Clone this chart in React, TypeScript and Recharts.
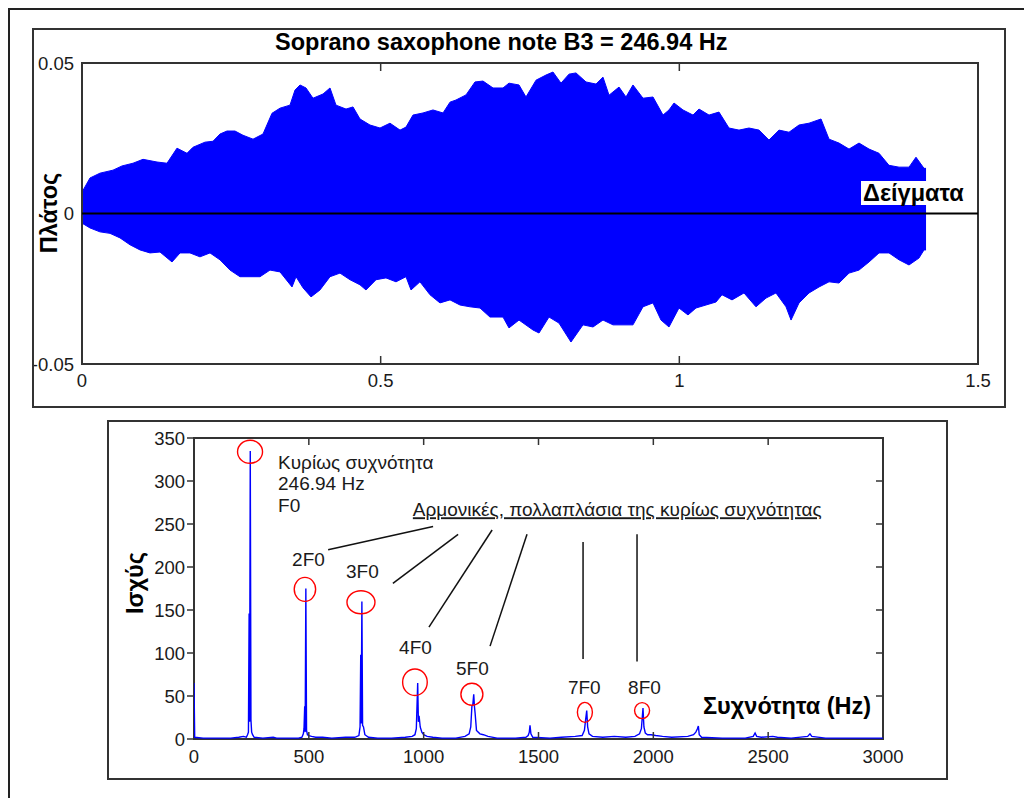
import React from 'react';
import { ComposedChart, Area, Line, XAxis, YAxis, ReferenceLine, ReferenceArea, ReferenceDot } from 'recharts';

// ---------- top panel: waveform envelope (time s, amplitude) ----------
const waveTop: [number, number][] = [
  [0, 0.0071], [0.0134, 0.0118], [0.0301, 0.0134], [0.0519, 0.0144], [0.067, 0.0158], [0.0854, 0.0167],
  [0.1021, 0.018], [0.1256, 0.0171], [0.1423, 0.0167], [0.159, 0.0217], [0.1758, 0.02], [0.1858, 0.022],
  [0.2059, 0.0237], [0.2193, 0.024], [0.231, 0.0264], [0.2427, 0.0274], [0.2561, 0.0274], [0.2695, 0.026],
  [0.2863, 0.0247], [0.303, 0.0264], [0.3181, 0.0333], [0.3315, 0.035], [0.3482, 0.036], [0.3566, 0.041],
  [0.365, 0.0427], [0.375, 0.0417], [0.3867, 0.0383], [0.4035, 0.0397], [0.4152, 0.0417], [0.4252, 0.036],
  [0.442, 0.0347], [0.4537, 0.0354], [0.4654, 0.0314], [0.4821, 0.0294], [0.4989, 0.0284], [0.5156, 0.03],
  [0.5324, 0.0277], [0.5424, 0.0287], [0.5541, 0.0327], [0.5709, 0.0334], [0.5876, 0.0344], [0.6044, 0.0334],
  [0.6161, 0.037], [0.6261, 0.0377], [0.6429, 0.0394], [0.6579, 0.0437], [0.6713, 0.044], [0.6881, 0.0417],
  [0.7048, 0.0417], [0.7148, 0.0433], [0.7316, 0.0427], [0.7433, 0.0387], [0.7601, 0.0443], [0.7768, 0.046],
  [0.7885, 0.047], [0.8019, 0.0433], [0.8153, 0.0463], [0.827, 0.0467], [0.8438, 0.0437], [0.8605, 0.043],
  [0.8722, 0.0453], [0.8823, 0.0393], [0.899, 0.042], [0.9107, 0.0387], [0.9224, 0.0427], [0.9392, 0.0383],
  [0.9559, 0.0387], [0.9727, 0.0327], [0.9827, 0.0344], [0.9911, 0.0367], [1.0061, 0.0344], [1.0229, 0.0327],
  [1.0329, 0.0347], [1.0497, 0.0327], [1.0664, 0.0337], [1.0831, 0.0284], [1.0999, 0.0277], [1.1166, 0.0284],
  [1.1334, 0.0277], [1.1501, 0.0244], [1.1669, 0.0277], [1.1836, 0.027], [1.2004, 0.0294], [1.2171, 0.03],
  [1.2372, 0.0314], [1.2506, 0.0247], [1.2673, 0.0234], [1.2841, 0.0214], [1.3008, 0.0234], [1.3176, 0.0214],
  [1.3343, 0.02], [1.351, 0.016], [1.3678, 0.0154], [1.3845, 0.0154], [1.3962, 0.0187], [1.4096, 0.015], [1.413, 0.015],
];
const waveBottom: [number, number][] = [
  [0, -0.0032], [0.0134, -0.0048], [0.0301, -0.0061], [0.0469, -0.0066], [0.0636, -0.0081], [0.0804, -0.0104],
  [0.0971, -0.0121], [0.1138, -0.0131], [0.1306, -0.0128], [0.1507, -0.0161], [0.1641, -0.0131], [0.1808, -0.0131],
  [0.1975, -0.0144], [0.2143, -0.0131], [0.231, -0.0154], [0.2478, -0.0188], [0.2645, -0.021], [0.2813, -0.021],
  [0.298, -0.021], [0.3147, -0.0188], [0.3315, -0.0194], [0.3516, -0.0244], [0.3583, -0.021], [0.37, -0.0247],
  [0.3834, -0.0277], [0.3984, -0.0254], [0.4152, -0.021], [0.4319, -0.0198], [0.4487, -0.022], [0.4654, -0.0237],
  [0.4754, -0.0254], [0.4922, -0.022], [0.5089, -0.0214], [0.5257, -0.0227], [0.5424, -0.021], [0.5508, -0.0254],
  [0.5658, -0.0227], [0.5826, -0.027], [0.5993, -0.0297], [0.6161, -0.0287], [0.6328, -0.0304], [0.6496, -0.031],
  [0.6663, -0.0314], [0.683, -0.0344], [0.7048, -0.0344], [0.7148, -0.038], [0.7316, -0.0354], [0.755, -0.0387],
  [0.7651, -0.0397], [0.7818, -0.0344], [0.7985, -0.0364], [0.8186, -0.0427], [0.8387, -0.037], [0.8555, -0.0377],
  [0.8722, -0.0354], [0.889, -0.037], [0.9057, -0.037], [0.9224, -0.037], [0.9392, -0.031], [0.9559, -0.0297],
  [0.9693, -0.0354], [0.9827, -0.0377], [0.9994, -0.0314], [1.0145, -0.0337], [1.0279, -0.0314], [1.0446, -0.0304],
  [1.0614, -0.0294], [1.0714, -0.027], [1.0882, -0.0287], [1.1083, -0.0264], [1.1283, -0.031], [1.1451, -0.0281],
  [1.1618, -0.0264], [1.1786, -0.031], [1.187, -0.0354], [1.2004, -0.0297], [1.2171, -0.0264], [1.2339, -0.0244],
  [1.2506, -0.0227], [1.2673, -0.0231], [1.2841, -0.0198], [1.3008, -0.0188], [1.3176, -0.0161], [1.3343, -0.0131],
  [1.351, -0.0131], [1.3678, -0.0154], [1.3845, -0.0171], [1.4012, -0.0148], [1.4096, -0.0121], [1.413, -0.0121],
];
const timeTicks = [0, 0.5, 1, 1.5];
const ampTicks = [-0.05, 0, 0.05];

// ---------- bottom panel: spectrum (Hz, power) ----------
const spectrum: [number, number][] = [
  [0, 65], [3, 2], [40, 1], [100, 1], [160, 1], [195, 2], [215, 3], [228, 2], [233, 5], [237, 8], [240, 146], [242, 20],
  [245, 335], [248, 22], [251, 8], [255, 5], [262, 2], [300, 1], [345, 2], [360, 1], [420, 1], [455, 1], [470, 2],
  [476, 6], [479, 12], [482, 38], [484, 8], [487, 175], [490, 10], [494, 5], [500, 4], [512, 3], [530, 2], [560, 2],
  [600, 1], [660, 2], [700, 2], [718, 4], [723, 14], [726, 98], [728, 18], [731, 160], [734, 16], [738, 14], [744, 5],
  [760, 2], [800, 1], [860, 1], [920, 2], [950, 3], [962, 5], [968, 12], [974, 65], [977, 20], [980, 27], [985, 14],
  [992, 8], [1000, 5], [1015, 3], [1040, 2], [1080, 1], [1140, 1], [1180, 3], [1198, 6], [1205, 14], [1210, 38],
  [1214, 40], [1218, 52], [1221, 38], [1224, 30], [1230, 10], [1245, 6], [1260, 5], [1280, 3], [1320, 1], [1400, 1],
  [1445, 2], [1455, 4], [1460, 8], [1463, 16], [1467, 6], [1475, 2], [1550, 1], [1600, 2], [1660, 3], [1690, 4],
  [1700, 10], [1705, 22], [1710, 33], [1714, 14], [1720, 6], [1735, 3], [1780, 2], [1830, 3], [1880, 2], [1920, 3],
  [1940, 6], [1948, 12], [1955, 36], [1959, 14], [1965, 7], [1975, 5], [1990, 5], [2010, 4], [2040, 3], [2080, 2],
  [2150, 3], [2175, 5], [2185, 8], [2192, 12], [2196, 15], [2200, 5], [2210, 2], [2300, 1], [2400, 1], [2435, 3],
  [2443, 7], [2450, 3], [2470, 2], [2520, 3], [2540, 2], [2600, 1], [2672, 3], [2682, 6], [2690, 3], [2750, 1], [3000, 1],
];
const freqTicks = [0, 500, 1000, 1500, 2000, 2500, 3000];
const powerTicks = [0, 50, 100, 150, 200, 250, 300, 350];

// annotation anchors (data units: Hz, power)
const peakMarks: [number, number][] = [[244, 334], [483, 174], [727, 159], [962, 66], [1210, 52], [1702, 31], [1951, 33]];
const peakNames: { text: string; f: number; p: number }[] = [
  { text: '2F0', f: 427, p: 201 },
  { text: '3F0', f: 662, p: 187 },
  { text: '4F0', f: 893, p: 99 },
  { text: '5F0', f: 1141, p: 75 },
  { text: '7F0', f: 1628, p: 52 },
  { text: '8F0', f: 1890, p: 52 },
];
const fundamentalLines = ['Κυρίως συχνότητα', '246.94 Hz', 'F0'];
const fundamentalAt = { f: 366, p: 314 };
const harmonicsText = 'Αρμονικές, πολλαπλάσια της κυρίως συχνότητας';
const harmonicsAt = { f: 953, p: 259 };
const pointerLines: [number, number, number, number][] = [
  [584, 220, 1041, 247],
  [866, 181, 1150, 238],
  [1023, 130, 1298, 243],
  [1289, 108, 1450, 238],
  [1694, 93, 1694, 229],
  [1929, 90, 1929, 238],
];

const title = 'Soprano saxophone note B3 = 246.94 Hz';
const topYLabel = 'Πλάτος';
const topXLabel = 'Δείγματα';
const botYLabel = 'Ισχύς';
const botXLabel = 'Συχνότητα (Hz)';

// ---------- styling / layout ----------
const FONT = "'Liberation Sans', Arial, Helvetica, sans-serif";
const BLUE = '#0000ff';
const AX = '#333';
const TXT = '#1a1a1a';
const TICK_FS = 18.5;
const ANNO_FS = 19;
const LABEL_FS = 23.5;
const circleRadii: [number, number][] = [[12.5, 11.5], [10.7, 12], [14, 11.5], [12.3, 13.3], [11, 11], [7.5, 10], [7.5, 8]];

// top chart geometry (chart coordinates)
const T = { w: 972, h: 378, pl: 49, pr: 945, pt: 34, pb: 335 };
// bottom chart geometry
const B = { w: 839, h: 358, pl: 86, pr: 775, pt: 17, pb: 318 };

const waveData = [
  ...waveTop.map(([t, a]) => ({ t, up: a })),
  ...waveBottom.map(([t, a]) => ({ t, lo: a })),
].sort((a, b) => a.t - b.t);
const specData = spectrum.map(([f, p]) => ({ f, p }));

const TopXTick = (props: any) => {
  const { x, payload } = props;
  const v = payload.value;
  const inner = v !== timeTicks[0] && v !== timeTicks[timeTicks.length - 1];
  return (
    <g>
      {inner && <line x1={x} x2={x} y1={T.pb} y2={T.pb - 8} stroke={AX} strokeWidth={1.5} />}
      {inner && <line x1={x} x2={x} y1={T.pt} y2={T.pt + 8} stroke={AX} strokeWidth={1.5} />}
      <text x={x} y={T.pb + 23} textAnchor="middle" fontFamily={FONT} fontSize={TICK_FS} fill={TXT}>{String(v)}</text>
    </g>
  );
};
const TopYTick = (props: any) => {
  const { y, payload } = props;
  return (
    <text x={T.pl - 8} y={y} dy="0.36em" textAnchor="end" fontFamily={FONT} fontSize={TICK_FS} fill={TXT}>{String(payload.value)}</text>
  );
};
const BotXTick = (props: any) => {
  const { x, payload } = props;
  const v = payload.value;
  const inner = v !== freqTicks[0] && v !== freqTicks[freqTicks.length - 1];
  return (
    <g>
      {inner && <line x1={x} x2={x} y1={B.pb} y2={B.pb - 7} stroke={AX} strokeWidth={1.5} />}
      {inner && <line x1={x} x2={x} y1={B.pt} y2={B.pt + 7} stroke={AX} strokeWidth={1.5} />}
      <text x={x} y={B.pb + 24} textAnchor="middle" fontFamily={FONT} fontSize={TICK_FS} fill={TXT}>{String(v)}</text>
    </g>
  );
};
const BotYTick = (props: any) => {
  const { y, payload } = props;
  const v = payload.value;
  const inner = v !== powerTicks[0] && v !== powerTicks[powerTicks.length - 1];
  return (
    <g>
      <line x1={B.pl - 7} x2={B.pl} y1={y} y2={y} stroke={AX} strokeWidth={1.5} />
      {inner && <line x1={B.pr - 7} x2={B.pr} y1={y} y2={y} stroke={AX} strokeWidth={1.5} />}
      <text x={B.pl - 9} y={y} dy="0.36em" textAnchor="end" fontFamily={FONT} fontSize={TICK_FS} fill={TXT}>{String(v)}</text>
    </g>
  );
};

export default function App() {
  return (
    <div style={{ position: 'relative', width: 1024, height: 790, overflow: 'hidden', background: '#fff' }}>
      <div style={{ position: 'absolute', left: 25, top: 21 }}>
        <ComposedChart width={T.w} height={T.h} data={waveData} margin={{ top: T.pt, right: T.w - T.pr, bottom: T.h - T.pb - 30, left: T.pl - 40 }}>
          <XAxis type="number" dataKey="t" domain={[0, 1.5]} ticks={timeTicks} interval={0} height={30} axisLine={false} tickLine={false} tick={TopXTick} allowDataOverflow />
          <YAxis type="number" domain={[-0.05, 0.05]} ticks={ampTicks} interval={0} width={40} axisLine={false} tickLine={false} tick={TopYTick} allowDataOverflow />
          <Area type="linear" dataKey="up" connectNulls stroke={BLUE} strokeWidth={1} fill={BLUE} fillOpacity={1} isAnimationActive={false} dot={false} activeDot={false} />
          <Area type="linear" dataKey="lo" connectNulls stroke={BLUE} strokeWidth={1} fill={BLUE} fillOpacity={1} isAnimationActive={false} dot={false} activeDot={false} />
          <ReferenceLine y={0} stroke="#000" strokeWidth={2} />
          <ReferenceArea x1={0} x2={1.5} y1={-0.05} y2={0.05} fill="none" fillOpacity={0} stroke={AX} strokeWidth={2} />
        </ComposedChart>
      </div>
      <div style={{ position: 'absolute', left: 100, top: 413 }}>
        <ComposedChart width={B.w} height={B.h} data={specData} margin={{ top: B.pt, right: B.w - B.pr, bottom: B.h - B.pb - 30, left: B.pl - 40 }}>
          <XAxis type="number" dataKey="f" domain={[0, 3000]} ticks={freqTicks} interval={0} height={30} axisLine={false} tickLine={false} tick={BotXTick} allowDataOverflow />
          <YAxis type="number" domain={[0, 350]} ticks={powerTicks} interval={0} width={40} axisLine={false} tickLine={false} tick={BotYTick} allowDataOverflow />
          <Line type="linear" dataKey="p" stroke={BLUE} strokeWidth={1.4} dot={false} activeDot={false} isAnimationActive={false} />
          <ReferenceArea x1={0} x2={3000} y1={0} y2={350} fill="none" fillOpacity={0} stroke={AX} strokeWidth={2} />
          {pointerLines.map(([f1, p1, f2, p2], i) => (
            <ReferenceLine key={'pl' + i} segment={[{ x: f1, y: p1 }, { x: f2, y: p2 }]} stroke="#111" strokeWidth={1.5} ifOverflow="visible" />
          ))}
          {peakMarks.map(([f, p], i) => (
            <ReferenceDot key={'pm' + i} x={f} y={p} ifOverflow="visible" shape={(s: any) => (
              <ellipse cx={s.cx} cy={s.cy} rx={circleRadii[i][0]} ry={circleRadii[i][1]} fill="none" stroke="#ff0000" strokeWidth={1.4} />
            )} />
          ))}
          {peakNames.map((n, i) => (
            <ReferenceDot key={'pn' + i} x={n.f} y={n.p} ifOverflow="visible" shape={(s: any) => (
              <text x={s.cx} y={s.cy} fontFamily={FONT} fontSize={ANNO_FS} fill={TXT}>{n.text}</text>
            )} />
          ))}
          <ReferenceDot x={fundamentalAt.f} y={fundamentalAt.p} ifOverflow="visible" shape={(s: any) => (
            <text x={s.cx} y={s.cy} fontFamily={FONT} fontSize={ANNO_FS} fill={TXT}>
              {fundamentalLines.map((l, i) => (
                <tspan key={i} x={s.cx} dy={i === 0 ? 0 : 21.5}>{l}</tspan>
              ))}
            </text>
          )} />
          <ReferenceDot x={harmonicsAt.f} y={harmonicsAt.p} ifOverflow="visible" shape={(s: any) => (
            <text x={s.cx} y={s.cy} fontFamily={FONT} fontSize={ANNO_FS} fill={TXT} textDecoration="underline">{harmonicsText}</text>
          )} />
        </ComposedChart>
      </div>
      <svg width={1024} height={790} style={{ position: 'absolute', left: 0, top: 0, pointerEvents: 'none' }}>
        <line x1={1} y1={0} x2={1} y2={790} stroke="#222" strokeWidth={2} />
        <line x1={0} y1={1} x2={1024} y2={1} stroke="#222" strokeWidth={2} />
        <rect x={25} y={21} width={972} height={378} fill="none" stroke={AX} strokeWidth={2} />
        <rect x={100} y={413} width={839} height={358} fill="none" stroke={AX} strokeWidth={2} />
        <text x={267} y={42} fontFamily={FONT} fontSize={LABEL_FS} fontWeight="bold" fill="#000">{title}</text>
        <text transform="translate(49,205) rotate(-90)" textAnchor="middle" fontFamily={FONT} fontSize={LABEL_FS} fontWeight="bold" fill="#000">{topYLabel}</text>
        <rect x={853} y={173} width={103} height={24} fill="#fff" />
        <text x={855} y={193} fontFamily={FONT} fontSize={LABEL_FS} fontWeight="bold" fill="#000">{topXLabel}</text>
        <text transform="translate(135,575) rotate(-90)" textAnchor="middle" fontFamily={FONT} fontSize={LABEL_FS} fontWeight="bold" fill="#000">{botYLabel}</text>
        <text x={695} y={706} fontFamily={FONT} fontSize={LABEL_FS} fontWeight="bold" fill="#000">{botXLabel}</text>
      </svg>
    </div>
  );
}
